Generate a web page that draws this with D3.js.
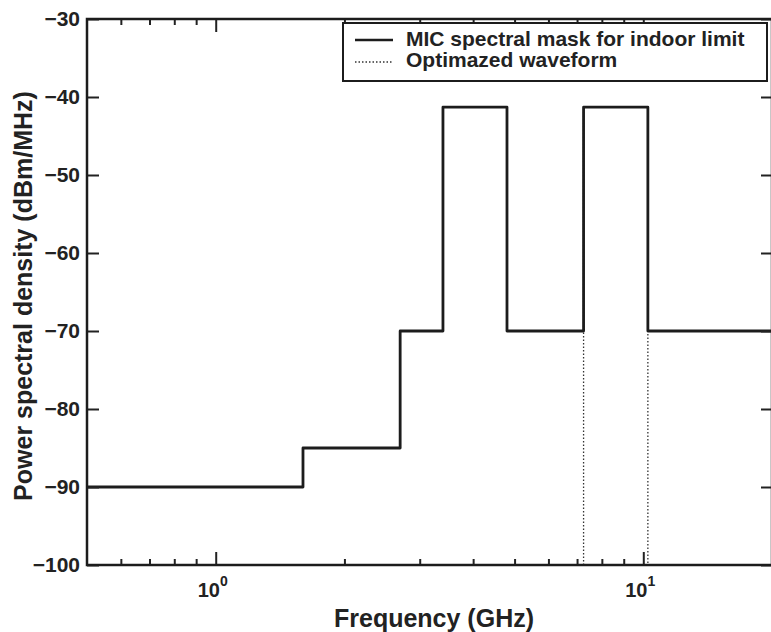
<!DOCTYPE html>
<html>
<head>
<meta charset="utf-8">
<script src="https://cdn.jsdelivr.net/npm/d3@7"></script>
<style>
  body { margin: 0; background: #fff; }
  text { font-family: "Liberation Sans", Arial, sans-serif; font-weight: bold; fill: #222; }
</style>
</head>
<body>
<div id="container"></div>
<script>
// mask steps: edges (GHz) and level for each band (dBm/MHz)
var maskEdges = [0.5, 1.6, 2.7, 3.4, 4.8, 7.25, 10.25, 20];
var maskLevels = [-90, -85, -70, -41.3, -70, -41.3, -70];

// optimized waveform (dotted)
var waveFreq = [7.25, 7.25, 10.25, 10.25];
var waveLevel = [-100, -41.3, -41.3, -100];

var yTicks = [-30, -40, -50, -60, -70, -80, -90, -100];
var xMajor = [1, 10];
var xMinor = [0.6, 0.7, 0.8, 0.9, 2, 3, 4, 5, 6, 7, 8, 9];
var legendLabels = ["MIC spectral mask for indoor limit", "Optimazed waveform"];

(function() {
var width = 771, height = 632;
var mLeft = 87, mRight = 772, mTop = 19, mBottom = 565;

var svg = d3.select("#container")
  .append("svg")
  .attr("width", width)
  .attr("height", height);

var x = d3.scaleLog().domain([0.5, 20]).range([mLeft, mRight]);
var y = d3.scaleLinear().domain([-100, -30]).range([mBottom, mTop]);

// build step points
var maskPts = [];
maskLevels.forEach(function(v, i) {
  maskPts.push([maskEdges[i], v]);
  maskPts.push([maskEdges[i + 1], v]);
});
var wavePts = waveFreq.map(function(f, i) { return [f, waveLevel[i]]; });

var line = d3.line()
  .x(function(d) { return x(d[0]); })
  .y(function(d) { return y(d[1]); });

svg.append("path")
  .attr("d", line(wavePts))
  .attr("fill", "none")
  .attr("stroke", "#333")
  .attr("stroke-width", 1.3)
  .attr("stroke-dasharray", "1.5,2");

svg.append("path")
  .attr("d", line(maskPts))
  .attr("fill", "none")
  .attr("stroke", "#1c1c1c")
  .attr("stroke-width", 2.8)
  .attr("stroke-linejoin", "round");

// axes
function styleAxis(g) {
  g.select(".domain").remove();
  g.selectAll("line").attr("stroke", "#222").attr("stroke-width", 2);
  g.selectAll("text").attr("fill", "#222").style("font-size", "21px").style("font-weight", "bold");
}

svg.append("g")
  .attr("transform", "translate(" + mLeft + ",0)")
  .call(d3.axisLeft(y).tickValues(yTicks).tickSize(-12).tickPadding(7).tickFormat(d3.format("d")))
  .call(styleAxis);

svg.append("g")
  .attr("transform", "translate(" + mRight + ",0)")
  .call(d3.axisRight(y).tickValues(yTicks).tickSize(-11).tickFormat(""))
  .call(styleAxis);

svg.append("g")
  .attr("transform", "translate(0," + mBottom + ")")
  .call(d3.axisBottom(x).tickValues(xMajor).tickSize(-13).tickFormat(""))
  .call(styleAxis);
svg.append("g")
  .attr("transform", "translate(0," + mBottom + ")")
  .call(d3.axisBottom(x).tickValues(xMinor).tickSize(-6).tickFormat(""))
  .call(styleAxis);
svg.append("g")
  .attr("transform", "translate(0," + mTop + ")")
  .call(d3.axisTop(x).tickValues(xMajor).tickSize(-13).tickFormat(""))
  .call(styleAxis);
svg.append("g")
  .attr("transform", "translate(0," + mTop + ")")
  .call(d3.axisTop(x).tickValues(xMinor).tickSize(-6).tickFormat(""))
  .call(styleAxis);

// x tick labels 10^n
xMajor.forEach(function(v) {
  var t = svg.append("text")
    .attr("x", x(v) - 3)
    .attr("y", 597)
    .attr("text-anchor", "middle")
    .style("font-size", "20px");
  t.append("tspan").text("10");
  t.append("tspan").attr("dy", -11).style("font-size", "14px").text(Math.round(Math.log10(v)));
});

// frame
svg.append("rect")
  .attr("x", mLeft).attr("y", mTop)
  .attr("width", mRight - mLeft).attr("height", mBottom - mTop)
  .attr("fill", "none")
  .attr("stroke", "#1c1c1c")
  .attr("stroke-width", 2.5);

// legend
var lg = svg.append("g");
lg.append("rect")
  .attr("x", 343).attr("y", 23)
  .attr("width", 424).attr("height", 58)
  .attr("fill", "#fff")
  .attr("stroke", "#1c1c1c")
  .attr("stroke-width", 2);
lg.append("line")
  .attr("x1", 355).attr("x2", 393).attr("y1", 40).attr("y2", 40)
  .attr("stroke", "#1c1c1c").attr("stroke-width", 2.5);
lg.append("line")
  .attr("x1", 355).attr("x2", 393).attr("y1", 62).attr("y2", 62)
  .attr("stroke", "#333").attr("stroke-width", 1.3).attr("stroke-dasharray", "1.5,2");
lg.selectAll("text.leg")
  .data(legendLabels)
  .enter()
  .append("text")
  .attr("class", "leg")
  .attr("x", 406)
  .attr("y", function(d, i) { return 46 + i * 21; })
  .style("font-size", "21px")
  .text(function(d) { return d; });

// axis titles
svg.append("text")
  .attr("x", 434).attr("y", 627)
  .attr("text-anchor", "middle")
  .style("font-size", "25px")
  .text("Frequency (GHz)");

svg.append("text")
  .attr("transform", "translate(32,296) rotate(-90)")
  .attr("text-anchor", "middle")
  .style("font-size", "25px")
  .text("Power spectral density (dBm/MHz)");
})();
</script>
</body>
</html>
